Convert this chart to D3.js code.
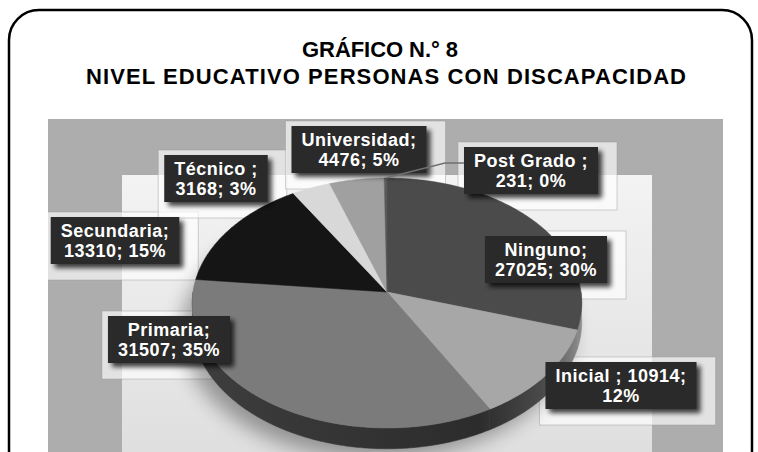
<!DOCTYPE html>
<html>
<head>
<meta charset="utf-8">
<script src="https://cdnjs.cloudflare.com/ajax/libs/d3/7.8.5/d3.min.js"></script>
<style>
body { margin: 0; background: #fff; }
svg { display: block; font-family: "Liberation Sans", Arial, sans-serif; }
</style>
</head>
<body>
<script>
var title = ["GRÁFICO N.° 8", "NIVEL EDUCATIVO PERSONAS CON DISCAPACIDAD"];
var categories = ["Ninguno", "Inicial ", "Primaria", "Secundaria", "Técnico ", "Universidad", "Post Grado "];
var values = [27025, 10914, 31507, 13310, 3168, 4476, 231];

// top face colours, one per slice
var topColors = ["#4b4b4b", "#a7a7a7", "#7b7b7b", "#151515", "#d8d8d8", "#a0a0a0", "#5a5a5a"];

// label boxes: centre x, top y, words kept on the first line
var labelPos = [[546, 236, 1], [621, 362, 2], [169, 316, 1], [115, 217, 1], [216, 155, 1], [359, 126, 1], [531, 147, 1]];

var W = 758, H = 452;
var svg = d3.select("body").append("svg").attr("width", W).attr("height", H);
var defs = svg.append("defs");

var fs = defs.append("filter").attr("id", "boxShadow").attr("x", "-20%").attr("y", "-20%").attr("width", "150%").attr("height", "160%");
fs.append("feGaussianBlur").attr("in", "SourceAlpha").attr("stdDeviation", 2.5);
fs.append("feOffset").attr("dx", 4).attr("dy", 4).attr("result", "ob");
fs.append("feComponentTransfer").append("feFuncA").attr("type", "linear").attr("slope", 0.75);
var fm = fs.append("feMerge");
fm.append("feMergeNode");
fm.append("feMergeNode").attr("in", "SourceGraphic");

defs.append("filter").attr("id", "pieShadow").attr("x", "-30%").attr("y", "-30%").attr("width", "160%").attr("height", "160%")
    .append("feGaussianBlur").attr("stdDeviation", 10);

var pg = defs.append("linearGradient").attr("id", "panelGrad").attr("x1", 0).attr("y1", 0).attr("x2", 0).attr("y2", 1);
pg.append("stop").attr("offset", 0).attr("stop-color", "#f3f3f3");
pg.append("stop").attr("offset", 1).attr("stop-color", "#dedede");

var sg = defs.append("linearGradient").attr("id", "sideGrad").attr("gradientUnits", "userSpaceOnUse")
    .attr("x1", 190).attr("y1", 0).attr("x2", 590).attr("y2", 0);
sg.append("stop").attr("offset", 0).attr("stop-color", "#3e3e3e");
sg.append("stop").attr("offset", 0.72).attr("stop-color", "#2c2c2c");
sg.append("stop").attr("offset", 0.88).attr("stop-color", "#4a4a4a");
sg.append("stop").attr("offset", 1).attr("stop-color", "#9c9c9c");

defs.append("clipPath").attr("id", "plotClip").append("rect")
    .attr("x", 48).attr("y", 119).attr("width", 675).attr("height", 340);

// outer frame
svg.append("rect")
    .attr("x", 9).attr("y", 10).attr("width", 743).attr("height", 470)
    .attr("rx", 30).attr("ry", 30)
    .attr("fill", "none").attr("stroke", "#000").attr("stroke-width", 2.5);

var titleWidths = [156, 600];
var titleCentres = [380, 386];
svg.selectAll("text.title").data(title).enter().append("text")
    .attr("class", "title")
    .attr("x", (d, i) => titleCentres[i]).attr("y", (d, i) => 57 + i * 27)
    .attr("text-anchor", "middle")
    .attr("font-size", 22).attr("font-weight", "bold")
    .attr("textLength", (d, i) => titleWidths[i]).attr("lengthAdjust", "spacing")
    .text(d => d);

// plot area backgrounds
var plot = svg.append("g").attr("clip-path", "url(#plotClip)");
plot.append("rect").attr("x", 48).attr("y", 119).attr("width", 675).attr("height", 340).attr("fill", "#adadad");
plot.append("rect").attr("x", 122).attr("y", 175).attr("width", 530).attr("height", 290).attr("fill", "url(#panelGrad)");

// pie geometry (perspective view of a flat disc)
var cx = 387, cy = 292, rx = 194, ry = 124, persp = 0.088, depth = 19;
function proj(a, h) {
    var X = Math.sin(a), Z = -Math.cos(a);
    var s = 1 / (1 - persp * Z);
    return [cx + rx * X * s, cy + (ry * Z + h) * s];
}
function arcPts(a0, a1, h) {
    var n = Math.max(2, Math.ceil(Math.abs(a1 - a0) / 0.01));
    return d3.range(n + 1).map(k => proj(a0 + (a1 - a0) * k / n, h));
}

var total = d3.sum(values);
var pct = d3.format(".0%");
var color = d3.scaleOrdinal().domain(categories).range(topColors);
var arcs = d3.pie().sort(null).value(i => values[i])(d3.range(values.length));
var line = d3.line().curve(d3.curveLinearClosed);

var pie = plot.append("g");

// soft shadow under the disc
pie.append("path")
    .attr("d", line(arcPts(0, 2 * Math.PI, depth)))
    .attr("transform", "translate(-10,10)")
    .attr("fill", "#000").attr("opacity", 0.35)
    .attr("filter", "url(#pieShadow)");

// sides (front half only)
pie.selectAll("path.side").data(arcs).enter().append("path")
    .attr("class", "side")
    .attr("d", d => {
        var a0 = Math.max(d.startAngle, Math.PI / 2), a1 = Math.min(d.endAngle, 3 * Math.PI / 2);
        if (a0 >= a1) return null;
        return line(arcPts(a0, a1, 0).concat(arcPts(a1, a0, depth)));
    })
    .attr("fill", "url(#sideGrad)")
    .attr("stroke", "url(#sideGrad)").attr("stroke-width", 0.5);

// top faces
pie.selectAll("path.top").data(arcs).enter().append("path")
    .attr("class", "top")
    .attr("d", d => line([[cx, cy]].concat(arcPts(d.startAngle, d.endAngle, 0))))
    .attr("fill", d => color(categories[d.data]))
    .attr("stroke", d => color(categories[d.data])).attr("stroke-width", 0.5);

// labels
var lab = svg.append("g").attr("font-size", 18).attr("font-weight", "bold").attr("letter-spacing", 0.5);
var boxes = [];
arcs.forEach((d, i) => {
    var words = [categories[i] + ";", values[i] + ";", pct(values[i] / total)];
    var split = labelPos[i][2];
    var lines = [words.slice(0, split).join(" "), words.slice(split).join(" ")];
    var g = lab.append("g");
    var t = g.selectAll("text").data(lines).enter().append("text")
        .attr("x", labelPos[i][0]).attr("y", (s, k) => labelPos[i][1] + 20 + k * 20)
        .attr("text-anchor", "middle").attr("fill", "#fff")
        .attr("xml:space", "preserve")
        .text(s => s);
    var w = d3.max(t.nodes(), n => n.getComputedTextLength()) + 20;
    var b = {x: labelPos[i][0] - w / 2, y: labelPos[i][1], w: w, h: 47, mid: (d.startAngle + d.endAngle) / 2};
    boxes.push(b);
    g.insert("rect", "text")
        .attr("x", b.x).attr("y", b.y).attr("width", b.w).attr("height", b.h)
        .attr("fill", "#2b2b2b").attr("filter", "url(#boxShadow)");
});

// faint label frames behind the boxes
plot.insert("g", "g").selectAll("rect").data(boxes).enter().append("rect")
    .attr("x", b => b.x - 6).attr("y", b => b.y - 5)
    .attr("width", b => b.w + 25).attr("height", b => b.h + 21)
    .attr("fill", "#fff").attr("fill-opacity", 0.65)
    .attr("stroke", "#999").attr("stroke-opacity", 0.45);

// leader line for the smallest slice
var pb = boxes[boxes.length - 1];
var tip = proj(pb.mid, 0);
svg.append("path")
    .attr("d", d3.line()([[pb.x, pb.y + 16], [pb.x - 19, pb.y + 16], tip]))
    .attr("fill", "none").attr("stroke", "#707070").attr("stroke-width", 1.5);
</script>
</body>
</html>
